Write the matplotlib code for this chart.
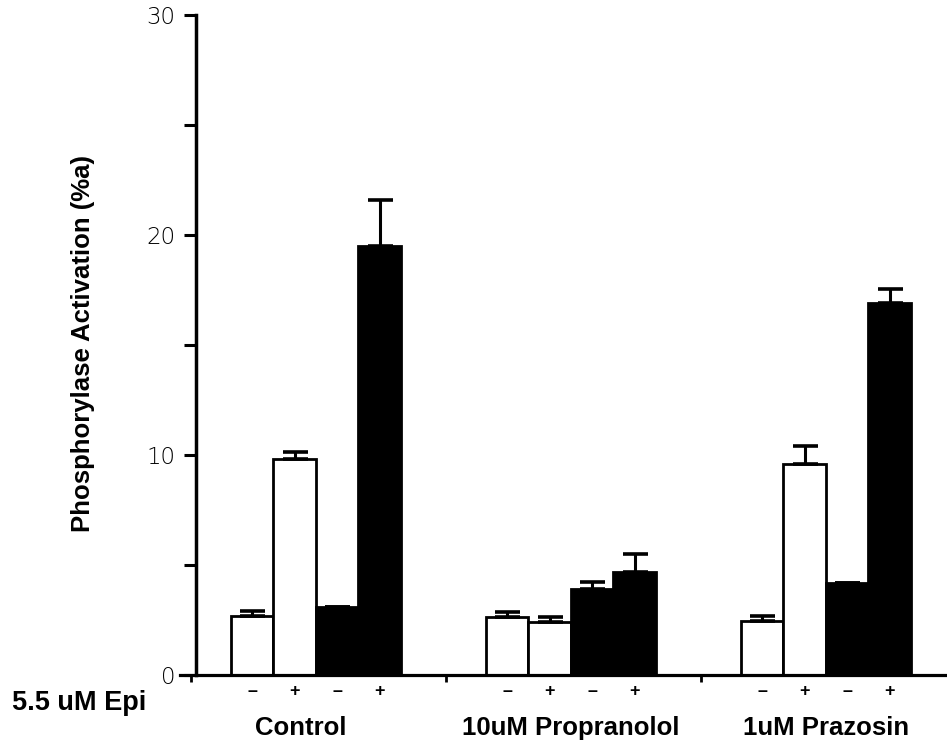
import numpy as np
import matplotlib
matplotlib.use("Agg")
import matplotlib.pyplot as plt

# phosphorylase activation, bars per group: white -, white +, black -, black +
groups = ["Control", "10uM Propranolol", "1uM Prazosin"]
epi_signs = ["\u2013", "+", "\u2013", "+"]
bar_colors = ["white", "white", "black", "black"]

means = [
    [2.7, 9.8, 3.1, 19.5],   # Control
    [2.65, 2.4, 3.9, 4.7],   # 10uM Propranolol
    [2.45, 9.6, 4.2, 16.9],  # 1uM Prazosin
]
sems = [
    [0.2, 0.35, 0.0, 2.1],
    [0.2, 0.25, 0.35, 0.8],
    [0.25, 0.8, 0.0, 0.65],
]

yticks_major = [0, 10, 20, 30]
yticks_minor = [5, 15, 25]

plt.rcParams['font.family'] = ['Liberation Sans', 'DejaVu Sans']

fig = plt.figure(figsize=(9.47, 7.54), dpi=100)
ax = fig.add_axes([180 / 947, 79 / 754, 767 / 947, 660 / 754])

unit = 42.5  # pixels per bar width
ax.set_xlim(-16 / unit, -16 / unit + 767 / unit)
ax.set_ylim(0, 30)

group_step = 6.0
first_left = 0.82
for g, name in enumerate(groups):
    left = first_left + g * group_step
    xs = left + 0.5 + np.arange(4)
    ax.bar(xs, means[g], width=1.0, color=bar_colors, edgecolor="black",
           linewidth=2.0, zorder=2)
    err = np.array(sems[g])
    ax.errorbar(xs, means[g], yerr=[np.zeros(4), err], fmt="none",
                ecolor="black", elinewidth=2.2, capsize=9, capthick=2.6,
                zorder=3)
    for x, s in zip(xs, epi_signs):
        ax.annotate(s, xy=(x, 0), xytext=(0, -12), textcoords="offset points",
                    ha="center", va="center", fontsize=13, fontweight="bold")
    shift = -0.35 if g == 0 else 0.0
    ax.annotate(name, xy=(left + 2 + shift, 0), xytext=(0, -38),
                textcoords="offset points", ha="center", va="center",
                fontsize=18.5, fontweight="bold")

# axes styling
for side in ["top", "right"]:
    ax.spines[side].set_visible(False)
ax.spines["left"].set_position(("data", 0))
ax.spines["left"].set_bounds(0, 30)
ax.spines["left"].set_linewidth(2.5)
ax.spines["bottom"].set_linewidth(2.3)

ax.set_yticks(yticks_major)
ax.set_yticks(yticks_minor, minor=True)
ax.set_yticklabels([str(v) for v in yticks_major], fontsize=16.5,
                   family="DejaVu Sans", fontweight="light")
ax.tick_params(axis="y", which="both", direction="out", length=9, width=2.2,
               pad=6)

ax.set_xticks([first_left - 0.94 + g * group_step for g in range(len(groups))])
ax.set_xticklabels([])
ax.tick_params(axis="x", direction="out", length=5, width=2)

fig.text(83 / 947, 1 - 343 / 754, "Phosphorylase Activation (%a)",
         rotation=90, ha="center", va="center", fontsize=18.5,
         fontweight="bold")
fig.text(12 / 947, 1 - 703 / 754, "5.5 uM Epi", ha="left", va="center",
         fontsize=19.5, fontweight="bold")

fig.savefig("out.png", dpi=100, facecolor="white")
